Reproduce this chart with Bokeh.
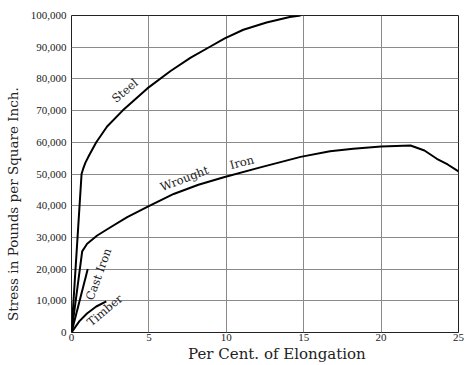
from bokeh.plotting import figure
from bokeh.models import Range1d, NumeralTickFormatter, FixedTicker, ColumnDataSource
from bokeh.embed import file_html
from bokeh.resources import INLINE
from bokeh.core.properties import value

# Data
steel_x = [0, 0.65, 0.75, 0.9, 1.15, 1.6, 2.3, 3.3, 4.9, 6.4, 7.7, 9.0, 9.9, 11.1, 12.6, 14.1, 14.8]
steel_y = [0, 50000, 51600, 53600, 56000, 60000, 65000, 70000, 77000, 82500, 86700, 90300, 92800, 95500, 97800, 99500, 100000]

wrought_x = [0, 0.69, 1.01, 1.66, 2.52, 3.6, 4.93, 6.6, 8.2, 9.84, 12.2, 14.8, 16.7, 18.2, 20.0, 21.9, 22.8, 23.6, 24.3, 25.0]
wrought_y = [0, 25600, 28000, 30600, 33200, 36400, 39700, 43700, 46600, 49000, 52100, 55400, 57200, 58000, 58700, 59000, 57400, 54800, 53000, 50800]

cast_x = [0, 1.05]
cast_y = [0, 20000]

timber_x = [0, 0.5, 1.0, 1.6, 2.25]
timber_y = [0, 3500, 6000, 8200, 9800]

label_text = ["Steel", "Wrought", "Iron", "Cast Iron", "Timber"]
label_x = [3.45, 7.3, 11.0, 1.75, 2.15]
label_y = [76300, 48600, 53700, 18400, 7000]
label_angle = [40, 21, 15, 70, 40]

x_ticks = [0, 5, 10, 15, 20, 25]
y_ticks = [0, 10000, 20000, 30000, 40000, 50000, 60000, 70000, 80000, 90000, 100000]

x_title = "Per Cent. of Elongation"
y_title = "Stress in Pounds per Square Inch."

SERIF = "DejaVu Serif"
TICKFONT = "Liberation Serif"
NBSP = "\u00a0"

p = figure(width=474, height=365, output_backend="svg", toolbar_location=None,
           x_range=Range1d(0, 25), y_range=Range1d(0, 100000),
           min_border_left=71, min_border_right=16, min_border_top=15, min_border_bottom=33)

p.background_fill_color = "white"
p.border_fill_color = "white"
p.outline_line_color = "#222222"
p.outline_line_width = 1

for ax in (p.xaxis[0], p.yaxis[0]):
    ax.major_tick_line_color = None
    ax.minor_tick_line_color = None
    ax.axis_line_color = None
    ax.major_label_text_font = TICKFONT
    ax.major_label_text_font_size = "11px"
    ax.major_label_text_color = "#222222"
    ax.axis_label_text_font = SERIF
    ax.axis_label_text_font_style = "normal"
    ax.axis_label_text_color = "#222222"
    ax.major_tick_out = 0
    ax.major_tick_in = 0

p.xaxis.ticker = FixedTicker(ticks=x_ticks)
p.yaxis.ticker = FixedTicker(ticks=y_ticks)
p.yaxis.formatter = NumeralTickFormatter(format="0,0")
# non-breaking spaces shift the centred titles to where the original has them
p.xaxis.axis_label = NBSP * 5 + x_title
p.yaxis.axis_label = y_title + NBSP * 14
p.xaxis.axis_label_text_font_size = "15px"
p.yaxis.axis_label_text_font_size = "13.5px"
p.xaxis.major_label_standoff = 1
p.xaxis.axis_label_standoff = 1
p.yaxis.major_label_standoff = 5
p.yaxis.axis_label_standoff = 7

p.xgrid.ticker = FixedTicker(ticks=x_ticks)
p.ygrid.ticker = FixedTicker(ticks=y_ticks)
p.grid.grid_line_color = "#8a8a8a"
p.grid.grid_line_width = 1

lw = 2
p.line(steel_x, steel_y, line_color="black", line_width=lw, line_join="round")
p.line(wrought_x, wrought_y, line_color="black", line_width=lw, line_join="round")
p.line(cast_x, cast_y, line_color="black", line_width=lw)
p.line(timber_x, timber_y, line_color="black", line_width=lw, line_join="round")

src = ColumnDataSource(dict(x=label_x, y=label_y, t=label_text, a=label_angle))
p.text(x="x", y="y", text="t", angle="a", angle_units="deg", source=src,
       text_font=value(SERIF), text_font_size="11.5px", text_color="#222222",
       text_align="center", text_baseline="middle")

open("out.html", "w").write(file_html(p, INLINE))
